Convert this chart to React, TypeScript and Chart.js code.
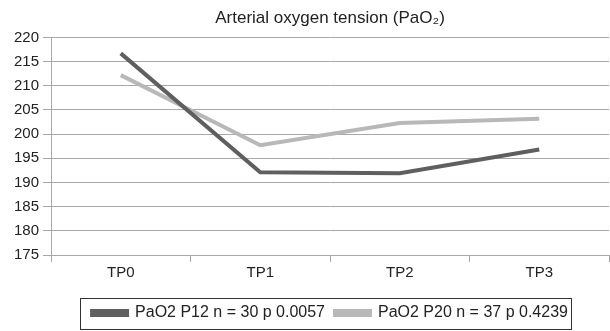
import React, { useEffect, useRef } from "react";
import { Chart, registerables } from "chart.js";

Chart.register(...registerables);

const categories = ["TP0", "TP1", "TP2", "TP3"];
const p12Values = [216.7, 192.1, 191.9, 196.8];
const p20Values = [212.2, 197.7, 202.3, 203.2];
const seriesLabels = ["PaO2 P12 n = 30 p 0.0057", "PaO2 P20 n = 37 p 0.4239"];
const titleText = "Arterial oxygen tension (PaO\u2082)";
const yMin = 175;
const yMax = 220;
const yStep = 5;

const FONT = "'Liberation Sans', Arial, Helvetica, sans-serif";

const legendBorder = {
  id: "legendBorder",
  afterDraw(chart: any) {
    const lg = chart.legend;
    if (!lg || !lg.legendHitBoxes || !lg.legendHitBoxes.length) return;
    const boxes = lg.legendHitBoxes;
    const first = boxes[0];
    const last = boxes[boxes.length - 1];
    const left = first.left - 12;
    const right = last.left + last.width + 3;
    const top = first.top - 7;
    const bottom = first.top + first.height + 8;
    const ctx = chart.ctx;
    ctx.save();
    ctx.strokeStyle = "#333";
    ctx.lineWidth = 1;
    ctx.strokeRect(Math.round(left) + 0.5, Math.round(top) + 0.5, Math.round(right - left), Math.round(bottom - top));
    ctx.restore();
  },
};

export default function App() {
  const ref = useRef<HTMLCanvasElement | null>(null);
  useEffect(() => {
    if (!ref.current) return;
    const chart = new Chart(ref.current, {
      type: "line",
      data: {
        labels: categories,
        datasets: [
          {
            label: seriesLabels[0],
            data: p12Values,
            borderColor: "#5f5f5f",
            backgroundColor: "#5f5f5f",
            borderWidth: 4,
            pointRadius: 0,
            tension: 0,
          },
          {
            label: seriesLabels[1],
            data: p20Values,
            borderColor: "#b8b8b8",
            backgroundColor: "#b8b8b8",
            borderWidth: 4,
            pointRadius: 0,
            tension: 0,
          },
        ],
      },
      options: {
        responsive: false,
        animation: false,
        layout: { padding: { left: 0, right: 1, top: 0, bottom: 0 } },
        plugins: {
          title: {
            display: true,
            text: titleText,
            fullSize: false,
            color: "#222",
            font: { family: FONT, size: 17, weight: "normal" },
            padding: { top: 8, bottom: 9 },
          },
          legend: {
            display: true,
            position: "bottom",
            fullSize: false,
            labels: {
              color: "#222",
              font: { family: FONT, size: 16 },
              boxWidth: 35,
              boxHeight: 4,
              padding: 10,
            },
          },
          tooltip: { enabled: false },
        },
        scales: {
          x: {
            type: "category",
            offset: true,
            grid: {
              offset: true,
              drawOnChartArea: false,
              drawTicks: true,
              tickLength: 7,
              color: "#a8a8a8",
            },
            border: { color: "#a8a8a8", width: 1 },
            ticks: { color: "#222", font: { family: FONT, size: 15 }, padding: 2 },
            afterFit: (s: any) => {
              s.height = 40;
            },
          },
          y: {
            min: yMin,
            max: yMax,
            ticks: { stepSize: yStep, color: "#222", font: { family: FONT, size: 15 }, padding: 4 },
            grid: { color: "#a8a8a8", tickLength: 8 },
            border: { color: "#a8a8a8", width: 1 },
            afterFit: (s: any) => {
              s.width = 51;
            },
          },
        },
      },
      plugins: [legendBorder],
    });
    return () => chart.destroy();
  }, []);
  return (
    <div style={{ position: "fixed", left: 0, top: 0, width: 610, height: 331, background: "#fff" }}>
      <canvas ref={ref} width={610} height={331} style={{ display: "block" }} />
    </div>
  );
}
